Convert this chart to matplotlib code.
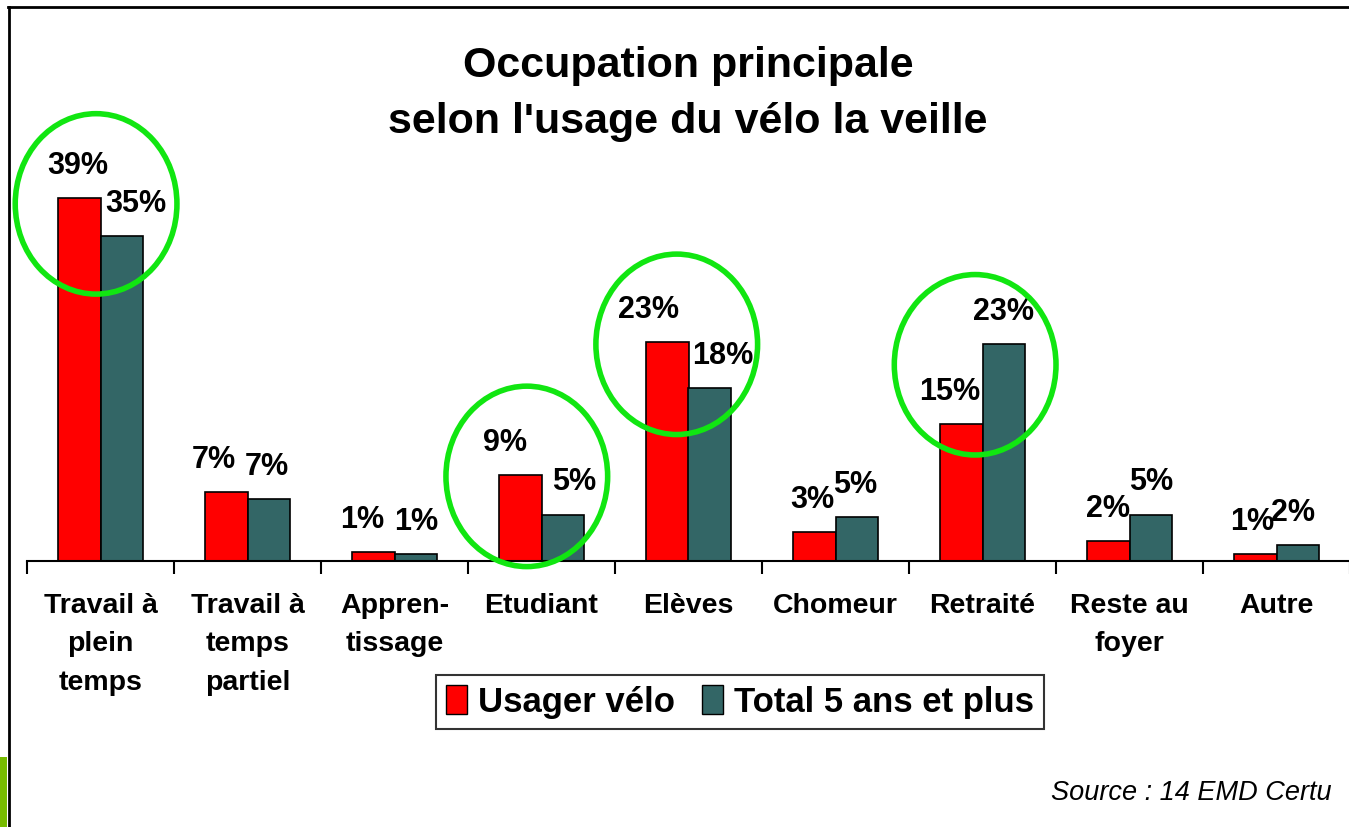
import numpy as np
import matplotlib
matplotlib.use('Agg')
import matplotlib.pyplot as plt
from matplotlib.patches import Ellipse, Patch

plt.rcParams['font.family'] = ['Liberation Sans', 'DejaVu Sans']

# data (bar heights in %, labels as printed)
categories = ['Travail à\nplein\ntemps', 'Travail à\ntemps\npartiel', 'Appren-\ntissage',
              'Etudiant', 'Elèves', 'Chomeur', 'Retraité', 'Reste au\nfoyer', 'Autre']
usager_velo = [39.0, 7.4, 1.0, 9.2, 23.5, 3.1, 14.7, 2.1, 0.8]
total_5ans = [34.9, 6.7, 0.8, 5.0, 18.6, 4.7, 23.3, 5.0, 1.7]
usager_labels = ['39%', '7%', '1%', '9%', '23%', '3%', '15%', '2%', '1%']
total_labels = ['35%', '7%', '1%', '5%', '18%', '5%', '23%', '5%', '2%']
series_names = ['Usager vélo', 'Total 5 ans et plus']

# hand-placed label nudges in the original (pixels, horizontal)
usager_nudge = [-1, -12, -11, -15, -19, -2, -11, 0, -3]
total_nudge = [14, -2, 0, 11, 13, -2, 0, 0, -5]

# highlighted groups: (category index, x shift, y centre in %)
highlights = [(0, -0.03, 38.4), (3, -0.1, 9.1), (4, -0.08, 23.3), (6, -0.05, 21.1)]

red = '#FF0000'
teal = '#336666'
green = '#11E611'

W, H = 1349, 827
fig = plt.figure(figsize=(W / 100, H / 100), dpi=100)

# frame lines and small green tab, like the slide
fig.add_artist(plt.Line2D([8 / W, 1], [1 - 7 / H, 1 - 7 / H], color='black', lw=2))
fig.add_artist(plt.Line2D([9 / W, 9 / W], [0, 1 - 7 / H], color='black', lw=2))
fig.add_artist(plt.Rectangle((0, 0), 7 / W, 70 / H, color='#77BB00', lw=0))

px_per_pct = 9.3
ax_top = 100
ax = fig.add_axes([27 / W, (H - 561) / H, 1323 / W, (561 - ax_top) / H])
ax.set_xlim(-0.5, 8.5)
ax.set_ylim(0, (561 - ax_top) / px_per_pct)

x = np.arange(len(categories))
bw = 0.29
ax.bar(x - bw / 2, usager_velo, bw, color=red, edgecolor='black', linewidth=1.2)
ax.bar(x + bw / 2, total_5ans, bw, color=teal, edgecolor='black', linewidth=1.2)

pt = 0.72  # points per pixel at dpi 100
for xi, v, lab, dx in zip(x, usager_velo, usager_labels, usager_nudge):
    ax.annotate(lab, (xi - bw / 2, v), xytext=(dx * pt, 32 * pt), textcoords='offset points',
                ha='center', va='center', fontsize=22, fontweight='bold')
for xi, v, lab, dx in zip(x, total_5ans, total_labels, total_nudge):
    ax.annotate(lab, (xi + bw / 2, v), xytext=(dx * pt, 32 * pt), textcoords='offset points',
                ha='center', va='center', fontsize=22, fontweight='bold')

for idx, dx, yc in highlights:
    ax.add_patch(Ellipse((idx + dx, yc), 1.1, 19.4, fill=False, edgecolor=green,
                         linewidth=4, clip_on=False, zorder=5))

for s in ['left', 'right', 'top']:
    ax.spines[s].set_visible(False)
ax.spines['bottom'].set_linewidth(1.5)
ax.set_yticks([])
ax.set_xticks(np.arange(-0.5, 9.0, 1.0))
ax.set_xticklabels([])
ax.tick_params(axis='x', which='major', length=9, width=1.5, direction='out')
ax.set_xticks(x, minor=True)
ax.set_xticklabels(categories, minor=True, fontsize=20.5, fontweight='bold', linespacing=1.62)
ax.tick_params(axis='x', which='minor', length=0, pad=23)

fig.text(0.51, 1 - 94 / H, 'Occupation principale\nselon l\'usage du vélo la veille',
         ha='center', va='center', fontsize=31, fontweight='bold', linespacing=1.5)

handles = [Patch(facecolor=red, edgecolor='black'), Patch(facecolor=teal, edgecolor='black')]
leg = fig.legend(handles, series_names, loc='center', bbox_to_anchor=(740 / W, 1 - 702 / H),
                 ncol=2, frameon=True, fancybox=False, shadow=False, edgecolor='black',
                 prop={'size': 25, 'weight': 'bold'}, handlelength=0.6, handleheight=0.9,
                 handletextpad=0.3, columnspacing=0.8, borderpad=0.3, borderaxespad=0)
leg.get_frame().set_linewidth(1.5)

fig.text(1332 / W, 1 - 793 / H, 'Source : 14 EMD Certu', ha='right', va='center',
         fontsize=19.5, style='italic')

fig.savefig('out.png', dpi=100)
